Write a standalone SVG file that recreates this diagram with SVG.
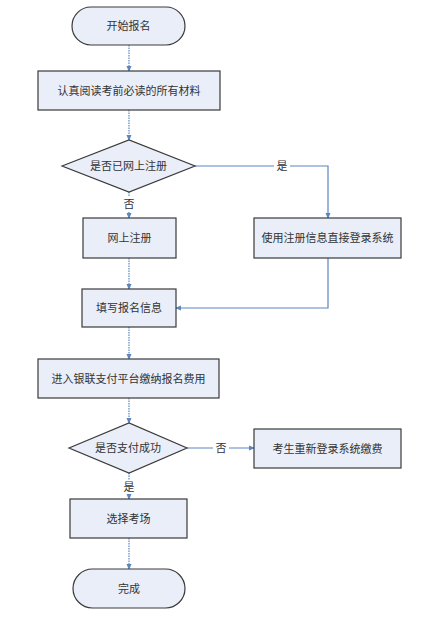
<svg xmlns="http://www.w3.org/2000/svg" width="433" height="620" viewBox="0 0 433 620">
<defs>
<style>
.n{fill:#e9eef8;stroke:#3a3a3a;stroke-width:1.2}
.t{font-family:"Liberation Serif","Noto Sans CJK SC",serif;font-size:11px;fill:#333;text-anchor:middle;dominant-baseline:central}
.c{fill:none;stroke:#5b86c2;stroke-width:1.2}
.d{stroke-dasharray:1.5 1}
</style>
<marker id="a" viewBox="0 0 6 6" refX="5" refY="3" markerWidth="5" markerHeight="5" orient="auto"><path d="M0,0.5 L6,3 L0,5.5 z" fill="#5b86c2"/></marker>
</defs>
<rect width="433" height="620" fill="#fff"/>
<g id="connectors">
<path class="c d" d="M129,45 V71" marker-end="url(#a)"/>
<path class="c d" d="M129,110 V140" marker-end="url(#a)"/>
<path class="c" d="M195,166 H328 V218" marker-end="url(#a)"/>
<path class="c d" d="M129,192 V218" marker-end="url(#a)"/>
<path class="c d" d="M129,258 V289" marker-end="url(#a)"/>
<path class="c" d="M328,258 V308 H176" marker-end="url(#a)"/>
<path class="c d" d="M129,327 V359" marker-end="url(#a)"/>
<path class="c d" d="M129,398 V423" marker-end="url(#a)"/>
<path class="c" d="M187,448 H254" marker-end="url(#a)"/>
<path class="c d" d="M129,473 V499" marker-end="url(#a)"/>
<path class="c d" d="M129,538 V569" marker-end="url(#a)"/>
<rect x="274" y="159" width="16" height="14" fill="#fff"/>
<text class="t" x="282" y="166">是</text>
<rect x="121" y="197" width="16" height="14" fill="#fff"/>
<text class="t" x="129" y="204">否</text>
<rect x="213" y="441" width="16" height="14" fill="#fff"/>
<text class="t" x="221" y="448">否</text>
<rect x="121" y="480" width="16" height="14" fill="#fff"/>
<text class="t" x="129" y="487">是</text>
</g>
<g id="start"><rect class="n" x="72" y="7" width="113" height="38" rx="19"/><text class="t" x="128.5" y="26">开始报名</text></g>
<g id="read"><rect class="n" x="38" y="71" width="182" height="39"/><text class="t" x="129" y="90.5">认真阅读考前必读的所有材料</text></g>
<g id="q1"><path class="n" d="M62,166 L129,140 L195,166 L129,192 Z"/><text class="t" x="128.5" y="166">是否已网上注册</text></g>
<g id="reg"><rect class="n" x="83" y="218" width="93" height="40"/><text class="t" x="129.5" y="238">网上注册</text></g>
<g id="login"><rect class="n" x="254" y="218" width="147" height="40"/><text class="t" x="327.5" y="238">使用注册信息直接登录系统</text></g>
<g id="fill"><rect class="n" x="82" y="289" width="94" height="38"/><text class="t" x="129" y="308">填写报名信息</text></g>
<g id="pay"><rect class="n" x="38" y="359" width="181" height="39"/><text class="t" x="128.5" y="378.5">进入银联支付平台缴纳报名费用</text></g>
<g id="q2"><path class="n" d="M69,448 L129,423 L187,448 L129,473 Z"/><text class="t" x="128" y="448">是否支付成功</text></g>
<g id="repay"><rect class="n" x="254" y="429" width="147" height="39"/><text class="t" x="327.5" y="448.5">考生重新登录系统缴费</text></g>
<g id="choose"><rect class="n" x="70" y="499" width="117" height="39"/><text class="t" x="128.5" y="518.5">选择考场</text></g>
<g id="end"><rect class="n" x="73" y="569" width="112" height="39" rx="19.5"/><text class="t" x="129" y="588.5">完成</text></g>
</svg>
